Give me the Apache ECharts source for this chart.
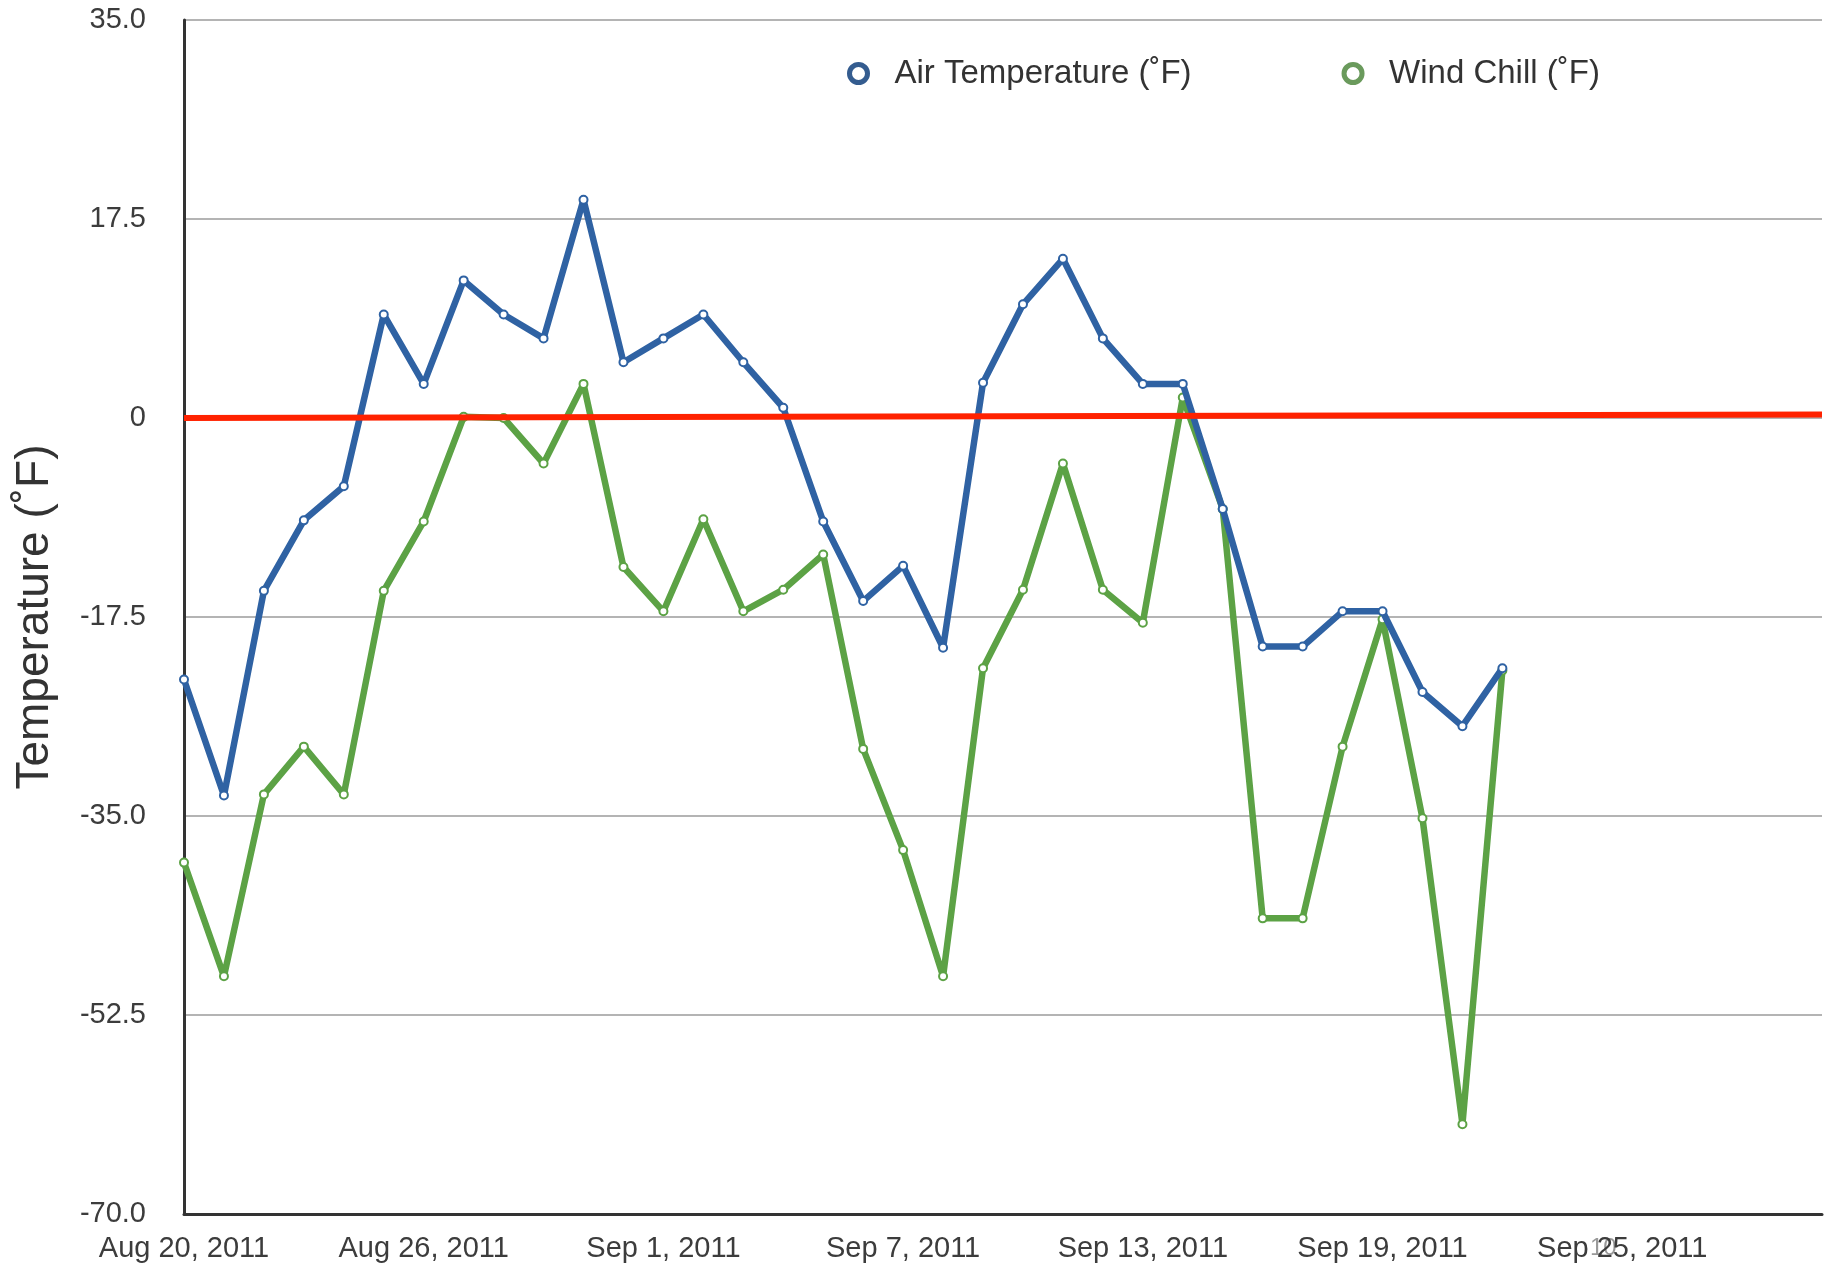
<!DOCTYPE html>
<html>
<head>
<meta charset="utf-8">
<script src="https://cdn.jsdelivr.net/npm/echarts@6/dist/echarts.min.js"></script>
<style>
  html, body { margin: 0; padding: 0; background: #fff; }
  #chart { width: 1828px; height: 1268px; }
</style>
</head>
<body>
<div id="chart"></div>
<script>
// one reading per day, starting Aug 20, 2011
const monthNames = ['Aug', 'Sep'];
const startDay = 20;
const dayCount = 42; // Aug 20 .. Sep 30, axis runs a bit past the data

const airTemp = [
  -23.0, -33.2, -15.2, -9.0, -6.0, 9.1, 3.0, 12.1, 9.1, 7.0,
  19.2, 4.9, 7.0, 9.1, 4.9, 0.9, -9.1, -16.1, -13.0, -20.2,
  3.1, 10.0, 14.0, 7.0, 3.0, 3.0, -8.0, -20.1, -20.1, -17.0,
  -17.0, -24.1, -27.1, -22.0
];
const windChill = [
  -39.1, -49.1, -33.1, -28.9, -33.1, -15.2, -9.1, 0.1, 0.0, -4.0,
  3.0, -13.1, -17.0, -8.9, -17.0, -15.1, -12.0, -29.1, -38.0, -49.1,
  -22.0, -15.1, -4.0, -15.1, -18.0, 1.8, -8.0, -44.0, -44.0, -28.9,
  -17.7, -35.2, -62.1, -22.2
];
const seriesNames = ['Air Temperature (˚F)', 'Wind Chill (˚F)'];
const blue = '#2f62a3';
const green = '#5ca245';

// category labels "Aug 20, 2011" ...
let days = [];
for (let i = 0; i < dayCount; i++) {
  let d = startDay + i;
  let m = 0;
  if (d > 31) { d = d - 31; m = 1; }
  days.push(monthNames[m] + ' ' + d + ', 2011');
}

const font = 'Liberation Sans, Arial, Helvetica, sans-serif';
let myChart = echarts.init(document.getElementById('chart'));

let option = {
  backgroundColor: '#fff',
  animation: false,
  textStyle: { fontFamily: font },
  grid: { left: 184, right: 6, top: 20, bottom: 54 },
  legend: {
    left: 842,
    top: 52,
    itemWidth: 62,
    itemHeight: 18,
    itemGap: 150,
    icon: 'circle',
    textStyle: { fontSize: 33, color: '#333', fontFamily: font },
    data: [
      { name: seriesNames[0], itemStyle: { color: '#fff', borderColor: '#345c8f', borderWidth: 5 } },
      { name: seriesNames[1], itemStyle: { color: '#fff', borderColor: '#6a9a5c', borderWidth: 5 } }
    ]
  },
  xAxis: {
    type: 'category',
    data: days,
    boundaryGap: false,
    axisLine: { onZero: false, lineStyle: { color: '#333', width: 3 } },
    axisTick: { show: false },
    axisLabel: {
      interval: 5,
      fontSize: 29,
      color: '#3c3c3c',
      margin: 20
    },
    splitLine: { show: false }
  },
  yAxis: {
    type: 'value',
    min: -70,
    max: 35,
    interval: 17.5,
    name: 'Temperature (˚F)',
    nameLocation: 'middle',
    nameGap: 126,
    nameTextStyle: { fontSize: 46, color: '#333', fontFamily: font },
    axisLine: { show: true, lineStyle: { color: '#333', width: 3 } },
    axisTick: { show: false },
    axisLabel: {
      fontSize: 29,
      color: '#3c3c3c',
      margin: 38,
      formatter: v => v === 0 ? '0' : v.toFixed(1)
    },
    splitLine: { lineStyle: { color: '#b4b4b4', width: 2 } }
  },
  series: [
    {
      name: seriesNames[0],
      type: 'line',
      data: airTemp,
      symbol: 'emptyCircle',
      symbolSize: 8,
      color: blue,
      lineStyle: { width: 6.5, color: blue },
      itemStyle: { color: blue, borderWidth: 2 },
      z: 3,
      markLine: {
        silent: true,
        symbol: 'none',
        label: { show: false },
        lineStyle: { color: '#ff2200', width: 6, type: 'solid' },
        data: [[{ xAxis: 0.25, yAxis: 0 }, { xAxis: dayCount - 1, yAxis: 0.3 }]]
      }
    },
    {
      name: seriesNames[1],
      type: 'line',
      data: windChill,
      symbol: 'emptyCircle',
      symbolSize: 8,
      color: green,
      lineStyle: { width: 6.5, color: green },
      itemStyle: { color: green, borderWidth: 2 },
      z: 2
    }
  ],
  graphic: [
    {
      type: 'text',
      left: 1590,
      top: 1236,
      style: { text: '10', fontSize: 24, fill: '#999', fontFamily: font }
    }
  ]
};

myChart.setOption(option);

window.addEventListener('resize', () => {
  myChart.resize();
});
</script>
</body>
</html>
